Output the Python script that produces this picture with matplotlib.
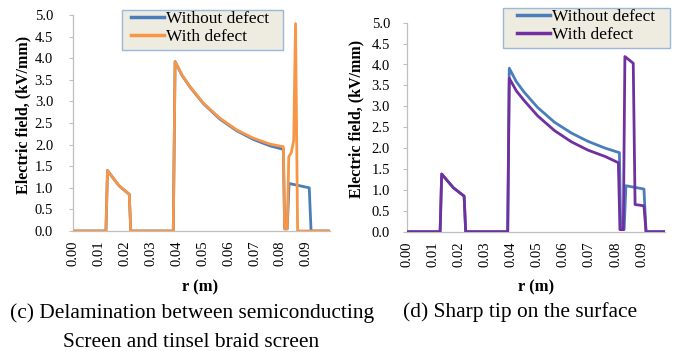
import matplotlib
matplotlib.use("Agg")
import matplotlib.pyplot as plt
from matplotlib.patches import Rectangle

plt.rcParams['font.family'] = ['Liberation Serif', 'DejaVu Serif']

# ---- data ----
# (c) Delamination between semiconducting screen and tinsel braid screen
r_blue_c = [0, 0.0126, 0.0132, 0.0176, 0.0216, 0.0222, 0.0386, 0.0393, 0.0420, 0.0451,
            0.0502, 0.0566, 0.0631, 0.0695, 0.0760, 0.0811, 0.0816, 0.0826, 0.0833, 0.0911,
            0.0918, 0.0985]
e_blue_c = [0, 0, 1.40, 1.05, 0.85, 0, 0, 3.92, 3.60, 3.33, 2.95, 2.59, 2.32, 2.12, 1.97,
            1.89, 0.05, 0.05, 1.10, 1.00, 0, 0]

r_orange = [0, 0.0126, 0.0132, 0.0176, 0.0216, 0.0222, 0.0386, 0.0393, 0.0420, 0.0451,
            0.0502, 0.0566, 0.0631, 0.0695, 0.0760, 0.0811, 0.0816, 0.0826, 0.0832, 0.0842,
            0.0851, 0.0858, 0.0866, 0.0985]
e_orange = [0, 0, 1.40, 1.05, 0.85, 0, 0, 3.92, 3.61, 3.34, 2.96, 2.61, 2.34, 2.15, 2.01,
            1.95, 0.05, 0.05, 1.72, 1.82, 2.10, 4.80, 0, 0]

# (d) Sharp tip on the surface
r_blue_d = [0, 0.0128, 0.0134, 0.0179, 0.0220, 0.0226, 0.0387, 0.0393, 0.0420, 0.0451,
            0.0502, 0.0566, 0.0631, 0.0695, 0.0760, 0.0815, 0.0820, 0.0833, 0.0840, 0.0909,
            0.0917, 0.0990]
e_blue_d = [0, 0, 1.38, 1.05, 0.85, 0, 0, 3.91, 3.59, 3.33, 2.97, 2.62, 2.36, 2.16, 2.00,
            1.89, 0.05, 0.05, 1.10, 1.02, 0, 0]

r_purple = [0, 0.0128, 0.0134, 0.0179, 0.0220, 0.0226, 0.0387, 0.0393, 0.0420, 0.0451,
            0.0502, 0.0566, 0.0631, 0.0695, 0.0760, 0.0811, 0.0817, 0.0830, 0.0836, 0.0868,
            0.0875, 0.0909, 0.0917, 0.0990]
e_purple = [0, 0, 1.38, 1.05, 0.85, 0, 0, 3.67, 3.37, 3.13, 2.77, 2.42, 2.15, 1.95, 1.80,
            1.65, 0.05, 0.05, 4.19, 4.03, 0.65, 0.62, 0, 0]

xticks = [0.00, 0.01, 0.02, 0.03, 0.04, 0.05, 0.06, 0.07, 0.08, 0.09]
xticklabels = ['0.00', '0.01', '0.02', '0.03', '0.04', '0.05', '0.06', '0.07', '0.08', '0.09']
yticks = [0.0, 0.5, 1.0, 1.5, 2.0, 2.5, 3.0, 3.5, 4.0, 4.5, 5.0]
series_labels = ['Without defect', 'With defect']
captions = ['(c) Delamination between semiconducting', 'Screen and tinsel braid screen',
            '(d) Sharp tip on the surface']

BLUE = '#4A7EBB'
ORANGE = '#F79646'
PURPLE = '#7030A0'
GRAY = '#BFBFBF'

W, H = 680, 351
fig = plt.figure(figsize=(W / 100, H / 100), dpi=100)
XMAX = 0.099


def fx(px):
    return px / W


def fy(py):
    return 1 - py / H


def px_axes(x0, y_top, x_per_001, y_bottom):
    width = XMAX / 0.01 * x_per_001
    return fig.add_axes([x0 / W, (H - y_bottom) / H, width / W, (y_bottom - y_top) / H])


def style(ax, ypad):
    ax.set_facecolor('none')
    ax.set_xlim(0, XMAX)
    ax.set_ylim(0, 5.0)
    ax.set_xticks(xticks)
    ax.set_xticklabels(xticklabels, rotation=90, fontsize=10.5)
    ax.set_yticks(yticks)
    ax.set_yticklabels([f'{v:.1f}' for v in yticks], fontsize=10.5)
    ax.tick_params(axis='x', length=0, pad=7)
    ax.tick_params(axis='y', length=3, width=0.8, color=GRAY, pad=ypad)
    for s in ['top', 'right']:
        ax.spines[s].set_visible(False)
    for s in ['bottom', 'left']:
        ax.spines[s].set_color(GRAY)
        ax.spines[s].set_linewidth(0.9)


def legend(ax, box, hx, ty):
    x0, y0, x1, y1 = box
    rect = Rectangle((fx(x0), fy(y1)), fx(x1) - fx(x0), (y1 - y0) / H,
                     transform=fig.transFigure, facecolor='#EEECE1', edgecolor='#9BB7D9',
                     linewidth=1.0, clip_on=False, zorder=4)
    ax.add_patch(rect)
    leg = ax.legend(loc='upper left', bbox_to_anchor=(fx(hx), fy(ty)),
                    bbox_transform=fig.transFigure, fontsize=12.5, frameon=False,
                    borderpad=0, handlelength=1.9, handletextpad=0.12,
                    labelspacing=0.1, borderaxespad=0)
    leg.set_zorder(6)
    for l in leg.get_lines():
        l.set_linewidth(2.5)


# ---- panel (c) ----
ax1 = px_axes(73.3, 15, 25.9, 231)
ax1.plot(r_blue_c, e_blue_c, color=BLUE, lw=2.0, label=series_labels[0], zorder=2)
ax1.plot(r_orange, e_orange, color=ORANGE, lw=2.0, label=series_labels[1], zorder=3)
style(ax1, 11.5)
legend(ax1, (122, 10, 283, 50), 131, 11)
fig.text(fx(23), fy(115), 'Electric field, (kV/mm)', rotation=90, fontsize=11.5,
         fontweight='bold', ha='center', va='center')
fig.text(fx(200), fy(287), 'r (m)', fontsize=12, fontweight='bold', ha='center', va='center')

# ---- panel (d) ----
ax2 = px_axes(406.7, 22.7, 26.1, 231.7)
ax2.plot(r_blue_d, e_blue_d, color=BLUE, lw=2.0, label=series_labels[0], zorder=2)
ax2.plot(r_purple, e_purple, color=PURPLE, lw=2.0, label=series_labels[1], zorder=3)
style(ax2, 9)
legend(ax2, (503, 8, 670, 48), 517, 9)
fig.text(fx(356), fy(119), 'Electric field, (kV/mm)', rotation=90, fontsize=11.5,
         fontweight='bold', ha='center', va='center')
fig.text(fx(536), fy(287), 'r (m)', fontsize=12, fontweight='bold', ha='center', va='center')

# ---- captions ----
fig.text(fx(10), fy(318), captions[0], fontsize=15.4, ha='left', va='baseline')
fig.text(fx(63), fy(347), captions[1], fontsize=15.4, ha='left', va='baseline')
fig.text(fx(403), fy(317), captions[2], fontsize=15.4, ha='left', va='baseline')

fig.savefig('out.png', dpi=100)
